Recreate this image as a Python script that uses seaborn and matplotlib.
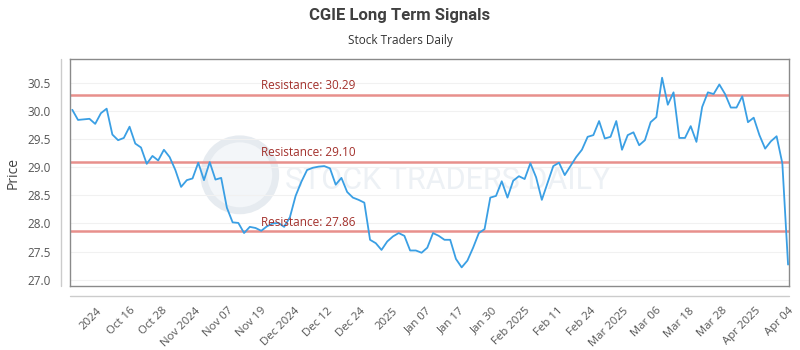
#!/usr/bin/env python3
"""CGIE long term signals: closing price with resistance levels."""

import numpy as np
import pandas as pd
import matplotlib.pyplot as plt
import seaborn as sns
from matplotlib.lines import Line2D
from matplotlib.patches import Ellipse

# ---------------------------------------------------------------------------
# Data
# ---------------------------------------------------------------------------
prices = [
    30.02, 29.84, 29.85, 29.86, 29.77, 29.96, 30.04, 29.58, 29.48, 29.52,
    29.72, 29.42, 29.35, 29.06, 29.20, 29.12, 29.31, 29.18, 28.95, 28.65,
    28.77, 28.80, 29.08, 28.77, 29.09, 28.78, 28.81, 28.28, 28.02, 28.01,
    27.83, 27.94, 27.92, 27.87, 27.95, 28.00, 28.01, 27.94, 28.11, 28.49,
    28.74, 28.95, 28.99, 29.01, 29.02, 28.98, 28.69, 28.81, 28.56, 28.46,
    28.42, 28.37, 27.71, 27.65, 27.53, 27.68, 27.77, 27.83, 27.78, 27.52,
    27.52, 27.48, 27.57, 27.83, 27.78, 27.71, 27.71, 27.37, 27.22, 27.34,
    27.57, 27.83, 27.90, 28.46, 28.49, 28.75, 28.46, 28.76, 28.84, 28.79,
    29.07, 28.82, 28.42, 28.72, 29.02, 29.08, 28.86, 29.02, 29.18, 29.31,
    29.54, 29.57, 29.82, 29.51, 29.54, 29.82, 29.31, 29.57, 29.62, 29.39,
    29.48, 29.80, 29.89, 30.59, 30.11, 30.33, 29.52, 29.52, 29.73, 29.45,
    30.07, 30.33, 30.30, 30.47, 30.30, 30.06, 30.06, 30.26, 29.80, 29.88,
    29.57, 29.33, 29.46, 29.55, 29.07, 27.27,
]
resistance_levels = [30.29, 29.10, 27.86]

tick_labels = [
    "2024", "Oct 16", "Oct 28", "Nov 2024", "Nov 07", "Nov 19", "Dec 2024",
    "Dec 12", "Dec 24", "2025", "Jan 07", "Jan 17", "Jan 30", "Feb 2025",
    "Feb 11", "Feb 24", "Mar 2025", "Mar 06", "Mar 18", "Mar 28",
    "Apr 2025", "Apr 04",
]
yticks = [27.0, 27.5, 28.0, 28.5, 29.0, 29.5, 30.0, 30.5]

df = pd.DataFrame({"day": np.arange(len(prices)), "price": prices})

# ticks are evenly spaced along the trading-day axis
tick_pos = [4.2 + 5.75 * i for i in range(len(tick_labels))]

# ---------------------------------------------------------------------------
# Style
# ---------------------------------------------------------------------------
sns.set_theme(style="white")
plt.rcParams["font.family"] = ["Open Sans", "DejaVu Sans"]

LINE_COLOR = "#3a9fe4"
RES_COLOR = "#e8908c"
RES_TEXT = "#a3312c"

fig = plt.figure(figsize=(8, 3.5), dpi=100)
ax = fig.add_axes([0.0875, 0.183, 0.899, 0.648])

# watermark (logo ring + wordmark)
ax.add_patch(Ellipse((0.236, 0.49), 0.100, 0.317, transform=ax.transAxes,
                     facecolor="#f3f6f9", edgecolor="#e6ebf0", linewidth=5,
                     zorder=0))
ax.text(0.525, 0.465, "STOCK TRADERS DAILY", transform=ax.transAxes,
        fontsize=22, color="#edf1f5", ha="center", va="center",
        family="Roboto", zorder=0.5)

for lvl in yticks:
    ax.axhline(lvl, color="#f1f1f1", linewidth=0.8, zorder=0.8)

sns.lineplot(data=df, x="day", y="price", ax=ax, color=LINE_COLOR,
             linewidth=1.3, zorder=3)

for lvl in resistance_levels:
    ax.axhline(lvl, color=RES_COLOR, linewidth=1.8, zorder=2)
    ax.annotate(f"Resistance: {lvl:.2f}", xy=(33, lvl), xytext=(0, 2),
                textcoords="offset points", fontsize=8.5, color=RES_TEXT,
                ha="left", va="bottom", zorder=4)

ax.set_xlim(-0.4, len(prices) - 0.8)
ax.set_ylim(26.89, 30.92)
ax.set_yticks(yticks)
ax.set_yticklabels([f"{v:.1f}" for v in yticks], fontsize=8.5, color="#555555")
ax.set_xticks(tick_pos)
ax.set_xticklabels(tick_labels, rotation=45, ha="right",
                   rotation_mode="anchor", fontsize=8.2, color="#555555")
ax.tick_params(axis="x", length=0, pad=14)
ax.tick_params(axis="y", length=0, pad=14)
ax.set_xlabel("")
ax.set_ylabel("Price", fontsize=10, color="#444444", labelpad=5)

for side in ["left", "right", "top", "bottom"]:
    ax.spines[side].set_color("#8a8a8a")
    ax.spines[side].set_linewidth(1.0)

# offset axis lines outside the frame
ax.add_line(Line2D([-0.0125, -0.0125], [0, 1], transform=ax.transAxes,
                   color="#cccccc", linewidth=1.0, clip_on=False))
ax.add_line(Line2D([0, 1], [-0.044, -0.044], transform=ax.transAxes,
                   color="#cccccc", linewidth=1.0, clip_on=False))

fig.text(0.5, 0.955, "CGIE Long Term Signals", ha="center", va="center",
         fontsize=12, fontweight="bold", color="#404040", family="Roboto")
fig.text(0.5, 0.885, "Stock Traders Daily", ha="center", va="center",
         fontsize=8.5, color="#333333")

fig.savefig("out.png", dpi=100)
plt.close(fig)
